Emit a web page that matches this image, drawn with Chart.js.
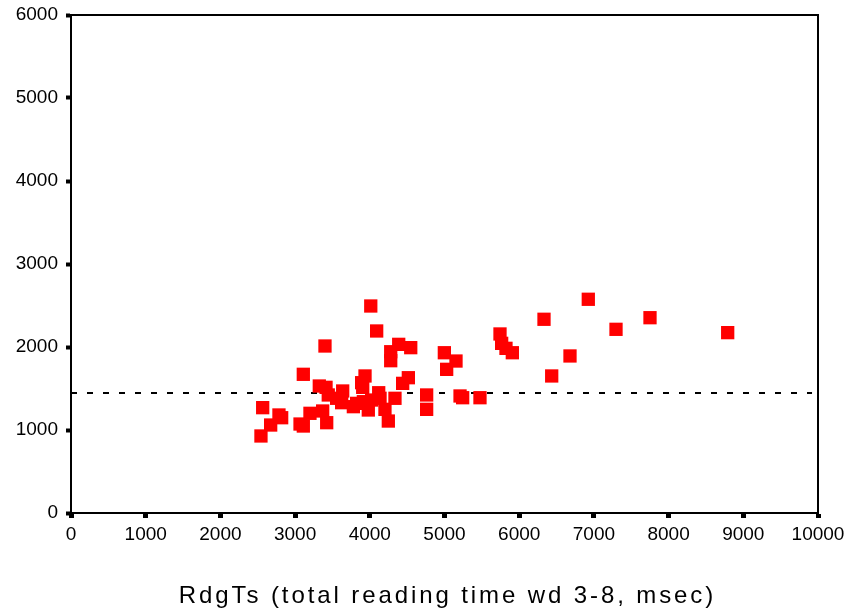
<!DOCTYPE html>
<html>
<head>
<meta charset="utf-8">
<script src="https://cdn.jsdelivr.net/npm/chart.js@4/dist/chart.umd.min.js"></script>
<style>
html,body{margin:0;padding:0;background:#fff;}
#wrap{width:852px;height:615px;position:relative;}
</style>
</head>
<body>
<div id="wrap"><canvas id="c" width="852" height="615"></canvas></div>
<script>
// Reading times (msec) and matching y values
const rdgX = [2543,2566,2673,2784,2820,3066,3110,3110,3199,3324,3369,3400,3414,3423,3444,3556,3623,3637,3780,3824,
              3891,3905,3914,3936,3980,4013,4025,4092,4119,4137,4203,4248,4280,4280,4337,4387,4440,4516,4548,4761,
              4761,4998,5029,5154,5208,5243,5475,5743,5765,5823,5908,6332,6435,6680,6925,7296,7751,8791];
const rdgY = [928,1269,1060,1181,1148,1072,1048,1671,1201,1530,1229,2012,1514,1088,1422,1382,1329,1470,1281,1321,
              1570,1514,1341,1651,1241,2494,1361,2193,1449,1382,1249,1108,1943,1835,1382,2032,1562,1630,1992,1422,
              1249,1931,1731,1831,1410,1389,1389,2157,2044,1984,1931,2334,1651,1892,2575,2213,2353,2173];
const refLevel = 1445;
const refRange = [0, 9920];
const xTicks = [0,1000,2000,3000,4000,5000,6000,7000,8000,9000,10000];
const yTicks = [0,1000,2000,3000,4000,5000,6000];
const xTitle = 'RdgTs (total reading time wd 3-8, msec)';

const points = rdgX.map((x,i)=>({x:x,y:rdgY[i]}));
const refLine = refRange.map(x=>({x:x,y:refLevel}));

const frame = {
  id:'frame',
  afterDatasetsDraw(chart){
    const a = chart.chartArea, ctx = chart.ctx;
    ctx.save();
    ctx.strokeStyle='#000'; ctx.lineWidth=2;
    ctx.beginPath();
    ctx.moveTo(a.left, a.top); ctx.lineTo(a.right, a.top); ctx.lineTo(a.right, a.bottom);
    ctx.stroke();
    ctx.restore();
  },
  afterDraw(chart){
    const a = chart.chartArea, ctx = chart.ctx;
    ctx.save();
    ctx.fillStyle='#000';
    ctx.font = "24px 'Liberation Sans', Arial, sans-serif";
    ctx.letterSpacing = '2.9px';
    ctx.textAlign='center'; ctx.textBaseline='alphabetic';
    ctx.fillText(xTitle, (a.left+a.right)/2 + 3, 603);
    ctx.restore();
  }
};

const tickFont = {family:"'Liberation Sans', Arial, sans-serif", size:19};

new Chart(document.getElementById('c'), {
  type:'scatter',
  data:{datasets:[
    {data:refLine, type:'line', showLine:true, borderColor:'#000', borderWidth:2, borderDash:[6,10], pointRadius:0, order:2},
    {data:points, pointStyle:'rect', pointRadius:9.4, pointHoverRadius:9.4, backgroundColor:'#ff0000', borderWidth:0, order:1}
  ]},
  options:{
    responsive:false, animation:false,
    layout:{padding:{top:15,right:34,left:0,bottom:0}},
    plugins:{legend:{display:false}, tooltip:{enabled:false}},
    scales:{
      x:{type:'linear', min:0, max:10000,
        afterBuildTicks(s){ s.ticks = xTicks.map(v=>({value:v})); },
        grid:{display:true, drawOnChartArea:false, drawTicks:true, tickLength:5, tickWidth:5, tickColor:'#000'},
        border:{display:true, color:'#000', width:2},
        ticks:{color:'#000', font:tickFont, padding:5, maxRotation:0, autoSkip:false, callback:v=>String(v)},
        title:{display:false},
        afterFit(s){ s.height = 102; s.paddingLeft = 0; s.paddingRight = 0; }
      },
      y:{type:'linear', min:0, max:6000,
        afterBuildTicks(s){ s.ticks = yTicks.map(v=>({value:v})); },
        grid:{display:true, drawOnChartArea:false, drawTicks:true, tickLength:5, tickWidth:4, tickColor:'#000'},
        border:{display:true, color:'#000', width:2},
        ticks:{color:'#000', font:tickFont, padding:8, autoSkip:false, callback:v=>String(v)},
        afterFit(s){ s.width = 71; s.paddingTop = 0; s.paddingBottom = 0; }
      }
    }
  },
  plugins:[frame]
});
</script>
</body>
</html>
